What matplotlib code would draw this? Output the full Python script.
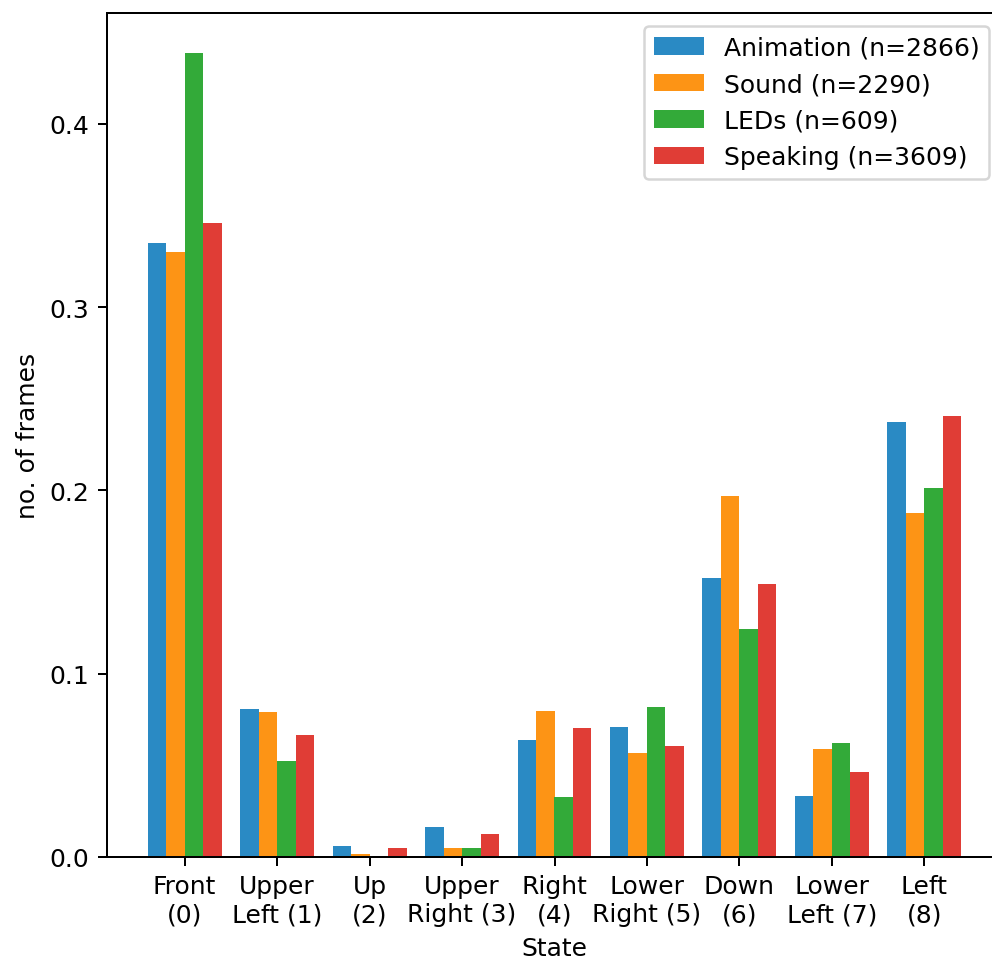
import numpy as np
from matplotlib import pyplot as plt

# 各状态下的帧比例
states = ["Front\n(0)", "Upper\nLeft (1)", "Up\n(2)", "Upper\nRight (3)", "Right\n(4)",
          "Lower\nRight (5)", "Down\n(6)", "Lower\nLeft (7)", "Left\n(8)"]
animation = [0.335, 0.081, 0.006, 0.0166, 0.0637, 0.0709, 0.152, 0.0332, 0.2375]
sound = [0.330, 0.079, 0.0019, 0.0047, 0.0799, 0.0565, 0.1972, 0.0591, 0.1875]
leds = [0.4385, 0.0522, 0.0, 0.0047, 0.0326, 0.0820, 0.1245, 0.0620, 0.2015]
speaking = [0.3457, 0.0666, 0.0047, 0.0128, 0.0706, 0.0605, 0.149, 0.0462, 0.2405]

labels = ["Animation (n=2866)", "Sound (n=2290)", "LEDs (n=609)", "Speaking (n=3609)"]
colors = ["#2a8ac4", "#fd9415", "#33aa39", "#e03d36"]

fig = plt.figure(figsize=(992 / 180, 963 / 180), dpi=180)
# 原图右侧被裁掉了一点，所以坐标轴伸出画布
ax = fig.add_axes([107 / 992, 105 / 963, 895 / 992, 844 / 963])

x = np.arange(len(states))
w = 0.2
for i, (vals, lab, c) in enumerate(zip([animation, sound, leds, speaking], labels, colors)):
    ax.bar(x + (i - 1.5) * w, vals, w, label=lab, color=c)

ax.set_xticks(x)
ax.set_xticklabels(states)
ax.set_yticks([0.0, 0.1, 0.2, 0.3, 0.4])
ax.set_xlabel("State")
ax.set_ylabel("no. of frames")
ax.legend(loc='upper right')

fig.savefig("out.png", dpi=180)
